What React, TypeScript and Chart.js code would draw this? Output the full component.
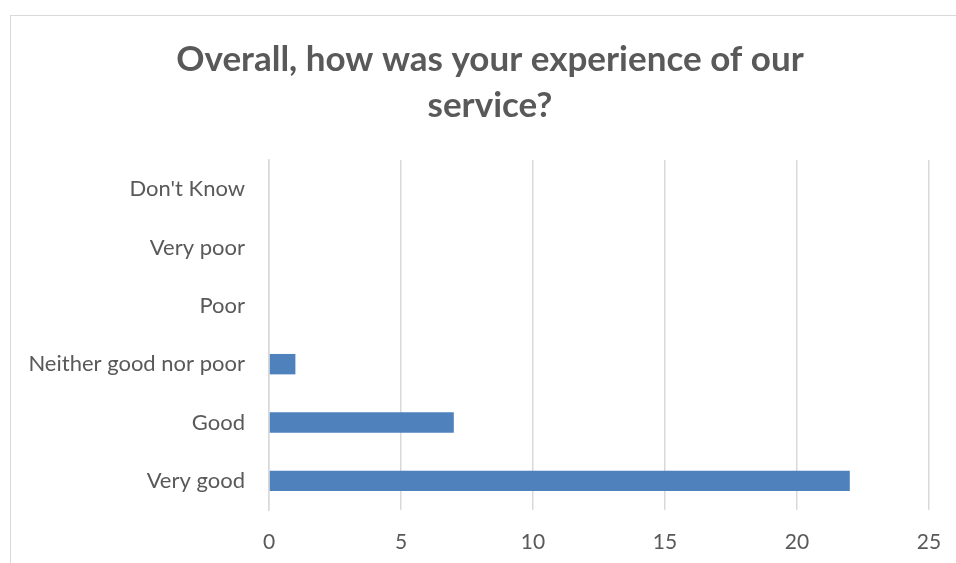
import React, { useEffect, useRef } from "react";
import { Chart, registerables } from "chart.js";

Chart.register(...registerables);

const categories = ["Don't Know", "Very poor", "Poor", "Neither good nor poor", "Good", "Very good"];
const counts = [0, 0, 0, 1, 7, 22];
const titleLines = ["Overall, how was your experience of our", "service?"];
const xMin = 0;
const xMax = 25;
const xStep = 5;

const titlePlugin = {
  id: "offsetTitle",
  afterDraw(chart: any) {
    const ctx = chart.ctx;
    ctx.save();
    ctx.fillStyle = "#595959";
    ctx.font = "bold 35px Lato";
    ctx.textAlign = "center";
    ctx.textBaseline = "middle";
    const cx = 490;
    titleLines.forEach((line, i) => {
      ctx.fillText(line, cx, 60 + i * 45.5);
    });
    ctx.restore();
  },
};

export default function App() {
  const ref = useRef<HTMLCanvasElement | null>(null);

  useEffect(() => {
    document.body.style.margin = "0";
    if (!ref.current) return;
    const chart = new Chart(ref.current, {
      type: "bar",
      data: {
        labels: categories,
        datasets: [
          {
            data: counts,
            backgroundColor: "#4F81BD",
            borderWidth: 0,
            barPercentage: 0.35,
            categoryPercentage: 1,
          },
        ],
      },
      plugins: [titlePlugin],
      options: {
        indexAxis: "y",
        responsive: false,
        animation: false,
        layout: { padding: { left: 0, right: 27, top: 160, bottom: 0 } },
        plugins: {
          legend: { display: false },
          tooltip: { enabled: false },
          title: { display: false },
        },
        scales: {
          x: {
            min: xMin,
            max: xMax,
            ticks: {
              stepSize: xStep,
              color: "#595959",
              font: { family: "Lato", size: 21 },
              padding: 20,
            },
            grid: { color: "#d9d9d9", lineWidth: 1.5, drawTicks: false },
            border: { display: false },
            afterFit: (s: any) => {
              s.height = 53;
              s.paddingRight = 0;
              s.paddingLeft = 0;
            },
          },
          y: {
            ticks: {
              color: "#595959",
              font: { family: "Lato", size: 22 },
              padding: 24,
            },
            grid: { display: false, drawTicks: false },
            border: { display: true, color: "#d9d9d9", width: 1.5 },
            afterFit: (s: any) => {
              s.width = 269;
            },
          },
        },
      },
    });
    return () => chart.destroy();
  }, []);

  return (
    <div style={{ position: "relative", width: 956, height: 563, overflow: "hidden", background: "#fff" }}>
      <div
        style={{
          position: "absolute",
          left: 10,
          top: 15,
          width: 1000,
          height: 600,
          border: "1.5px solid #d9d9d9",
          boxSizing: "border-box",
        }}
      />
      <canvas ref={ref} width={956} height={563} style={{ position: "absolute", left: 0, top: 0 }} />
    </div>
  );
}
